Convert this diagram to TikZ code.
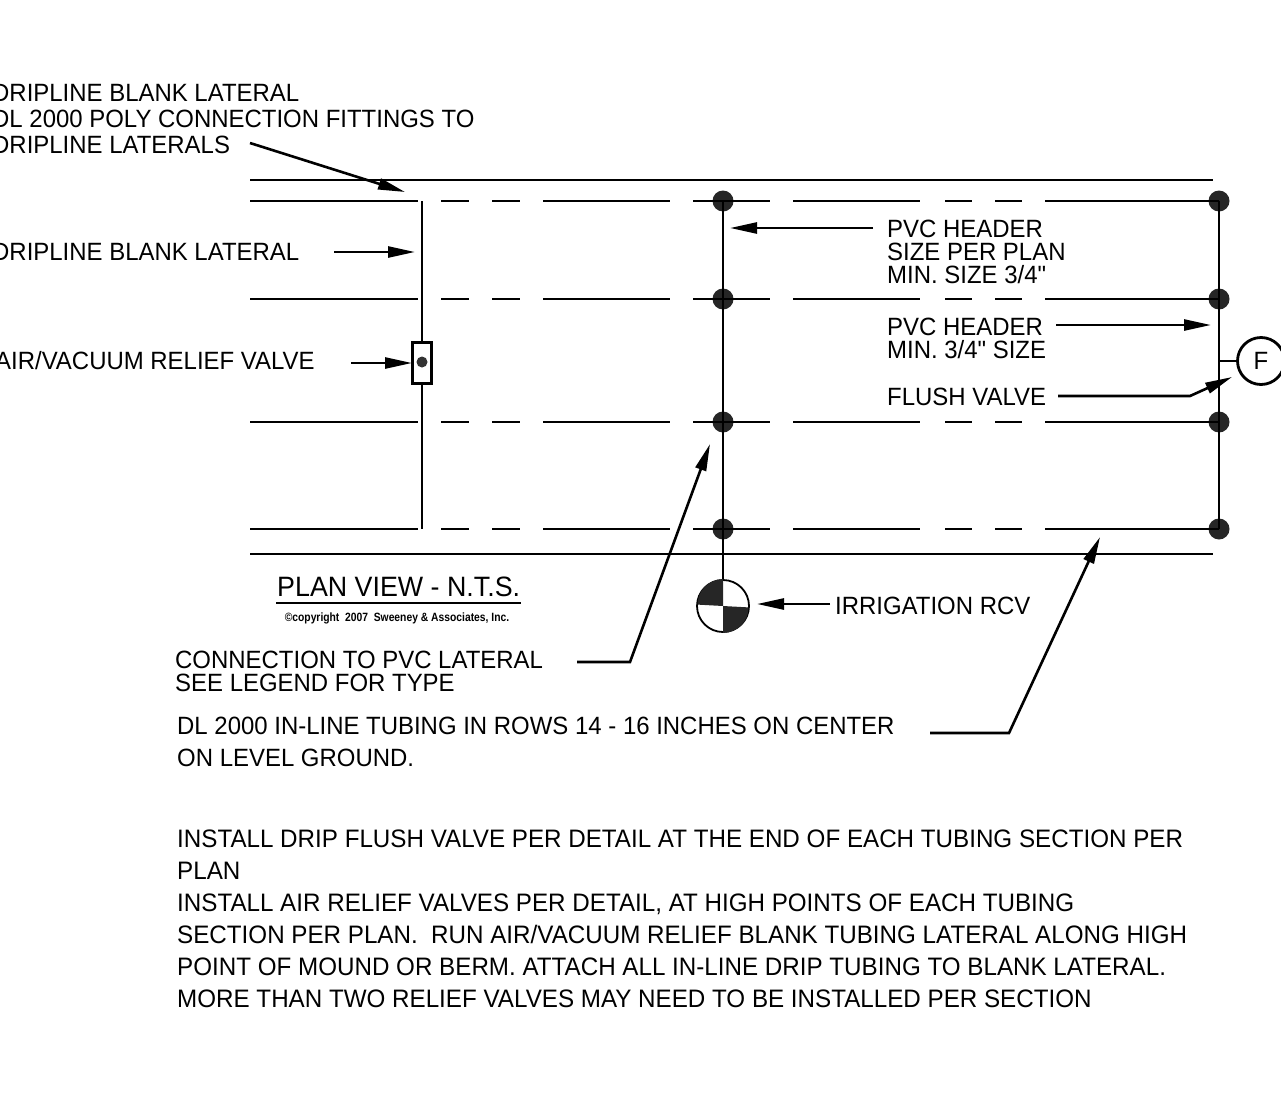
\documentclass[tikz,border=0pt]{standalone}
\usepackage{fontspec}
\usepackage{tikz}
\usetikzlibrary{arrows.meta}
\newfontfamily\notefont[FakeStretch=0.958]{Liberation Sans}
\newfontfamily\smallfont[FakeStretch=0.86]{Liberation Sans}
\tikzset{
  note/.style={inner sep=0pt, anchor=west, align=left, font=\notefont\fontsize{25}{#1}\selectfont},
  note/.default=26,
  pipe/.style={line width=2.8pt},
  thin pipe/.style={line width=1.8pt},
  tubing/.style={pipe, dash pattern=on 168pt off 23pt on 28pt off 23pt on 28pt off 23pt on 127pt off 23pt on 77pt off 23pt on 127pt off 25pt on 27pt off 23pt on 27pt off 23pt on 180pt},
  joint/.style={circle, fill=black!85, inner sep=0pt, minimum size=21pt},
  leader/.style={line width=2.6pt, -{Triangle[length=27pt,width=11pt]}},
}
\begin{document}
\begin{tikzpicture}[x=1pt,y=-1pt]
  \useasboundingbox (0,0) rectangle (1281,1108);

  % labels
  \node[note] (blankfit) at (-8,119) {DRIPLINE BLANK LATERAL\\DL 2000 POLY CONNECTION FITTINGS TO\\DRIPLINE LATERALS};
  \node[note] (blank) at (-8,252) {DRIPLINE BLANK LATERAL};
  \node[note] (air) at (-5,361) {AIR/VACUUM RELIEF VALVE};
  \node[note=23] (hdr) at (887,252) {PVC HEADER\\SIZE PER PLAN\\MIN. SIZE 3/4"};
  \node[note=23] (hdrmin) at (887,338) {PVC HEADER\\MIN. 3/4" SIZE};
  \node[note] (flush) at (887,397) {FLUSH VALVE};
  \node[note] (rcvlbl) at (835,606) {IRRIGATION RCV};
  \node[note=23] (conn) at (175,671) {CONNECTION TO PVC LATERAL\\SEE LEGEND FOR TYPE};
  \node[note=32] (inline) at (177,742) {DL 2000 IN-LINE TUBING IN ROWS 14 - 16 INCHES ON CENTER\\ON LEVEL GROUND.};
  \node[note=32, font=\notefont\fontsize{25.25}{32}\selectfont] (install) at (177,919) {INSTALL DRIP FLUSH VALVE PER DETAIL AT THE END OF EACH TUBING SECTION PER\\PLAN\\INSTALL AIR RELIEF VALVES PER DETAIL, AT HIGH POINTS OF EACH TUBING\\SECTION PER PLAN.\ \ RUN AIR/VACUUM RELIEF BLANK TUBING LATERAL ALONG HIGH\\POINT OF MOUND OR BERM. ATTACH ALL IN-LINE DRIP TUBING TO BLANK LATERAL.\\MORE THAN TWO RELIEF VALVES MAY NEED TO BE INSTALLED PER SECTION};
  \node[inner sep=0pt, anchor=west, font=\notefont\fontsize{28}{28}\selectfont] (plan) at (277,587) {PLAN VIEW - N.T.S.};
  \node[inner sep=0pt, font=\smallfont\bfseries\fontsize{12}{14}\selectfont] (copy) at (397,618) {\textcopyright copyright\ \ 2007\ \ Sweeney \& Associates, Inc.};
  \coordinate (planL) at (276,603);
  \coordinate (planR) at (521,603);
  \draw[pipe] (planL) -- (planR);

  % ends of the laterals and edges of the bed
  \foreach \y/\r in {201/1,299/2,422/3,529/4} {
    \node[joint] (j-\r-1) at (723,\y) {};
    \node[joint] (j-\r-2) at (1219,\y) {};
    \coordinate (row-\r) at (250,\y);
    \draw[tubing] (row-\r) -- (j-\r-2.center);
  }
  \coordinate (edgeTL) at (250,180);
  \coordinate (edgeTR) at (1213,180);
  \coordinate (edgeBL) at (250,554);
  \coordinate (edgeBR) at (1213,554);
  \draw[pipe] (edgeTL) -- (edgeTR);
  \draw[pipe] (edgeBL) -- (edgeBR);

  % blank lateral and relief valve
  \coordinate (latT) at (422,201);
  \coordinate (latB) at (422,529);
  \node[draw, line width=2.6pt, fill=white, inner sep=0pt, minimum width=19pt, minimum height=41pt] (valve) at (422,363) {};
  \node[circle, fill=black!80, inner sep=0pt, minimum size=11pt] (valvedot) at (422,362) {};
  \draw[pipe] (latT) -- (valve.north);
  \draw[pipe] (valve.south) -- (latB);

  % headers, RCV and flush valve
  \node[circle, draw, thin pipe, inner sep=0pt, minimum size=52pt] (rcv) at (723,606) {};
  \fill[black!85] (rcv.center) -- (rcv.north) arc (90:180:25.5pt) -- cycle;
  \fill[black!85] (rcv.center) -- (rcv.south) arc (270:360:25.5pt) -- cycle;
  \node[circle, draw, pipe, inner sep=0pt, minimum size=47pt, font=\notefont\fontsize{25}{26}\selectfont] (fv) at (1261,361) {F};
  \coordinate (fvT) at (1219,361);
  \draw[pipe] (j-1-1.center) -- (rcv.north);
  \draw[pipe] (j-1-2.center) -- (j-4-2.center);
  \draw[pipe] (fvT) -- (fv.west);

  % leaders
  \coordinate (a1) at (250,143);   \coordinate (a1t) at (405,192);
  \coordinate (a2) at (334,252);   \coordinate (a2t) at (415,252);
  \coordinate (a3) at (351,363);   \coordinate (a3t) at (412,363);
  \coordinate (a4) at (873,228);   \coordinate (a4t) at (730,228);
  \coordinate (a5) at (1056,325);  \coordinate (a5t) at (1211,325);
  \coordinate (a6) at (1058,396);  \coordinate (a6k) at (1190,396);  \coordinate (a6t) at (1232,377);
  \coordinate (a7) at (830,604);   \coordinate (a7t) at (757,604);
  \coordinate (a8) at (577,662);   \coordinate (a8k) at (630,662);   \coordinate (a8t) at (710,444);
  \coordinate (a9) at (930,733);   \coordinate (a9k) at (1009,733);  \coordinate (a9t) at (1100,537);
  \draw[leader] (a1) -- (a1t);
  \draw[leader] (a2) -- (a2t);
  \draw[leader] (a3) -- (a3t);
  \draw[leader] (a4) -- (a4t);
  \draw[leader] (a5) -- (a5t);
  \draw[leader] (a6) -- (a6k) -- (a6t);
  \draw[leader] (a7) -- (a7t);
  \draw[leader] (a8) -- (a8k) -- (a8t);
  \draw[leader] (a9) -- (a9k) -- (a9t);
\end{tikzpicture}
\end{document}
